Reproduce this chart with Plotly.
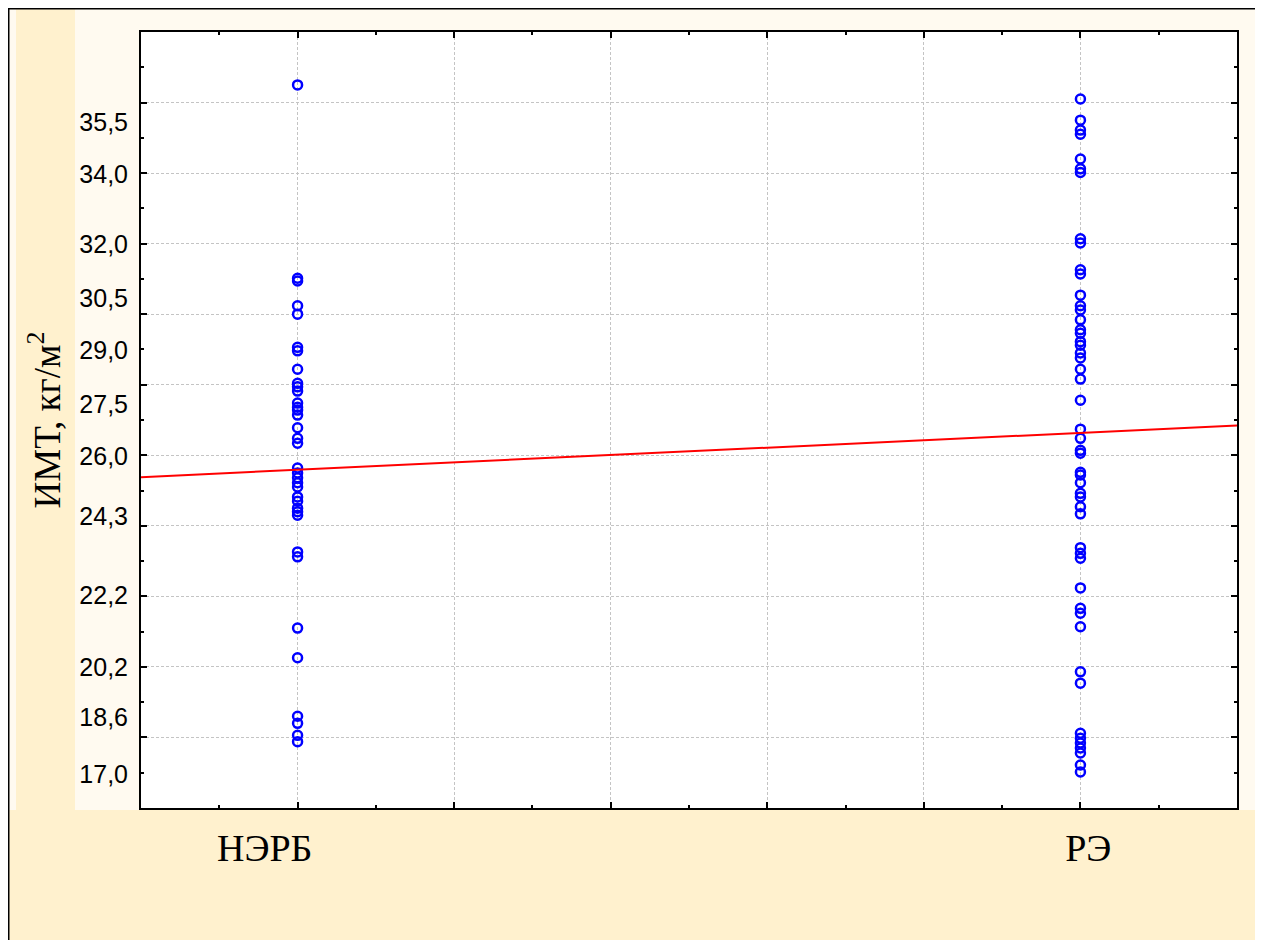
import plotly.graph_objects as go
import numpy as np

# ---------------- data (values on the chart's vertical scale) ----------------
groups = ["НЭРБ", "РЭ"]
group_pos = [1, 6]            # position of each group on the horizontal scale (0..7)

nerb_values = [10.25, 7.51, 7.47, 7.12, 7.00, 6.53, 6.48, 6.22, 6.02, 5.97, 5.91, 5.74,
               5.68, 5.64, 5.57, 5.39, 5.24, 5.17, 4.82, 4.75, 4.68, 4.61, 4.55, 4.41,
               4.35, 4.25, 4.20, 4.15, 3.63, 3.56, 2.55, 2.13, 1.30, 1.20, 1.03, 0.94]

re_values = [10.05, 9.75, 9.61, 9.55, 9.20, 9.06, 9.01, 8.07, 8.01, 7.63, 7.57, 7.27,
             7.12, 7.06, 6.92, 6.78, 6.73, 6.61, 6.56, 6.45, 6.38, 6.22, 6.08, 5.78,
             5.37, 5.24, 5.07, 5.03, 4.76, 4.72, 4.61, 4.46, 4.41, 4.27, 4.17, 3.69,
             3.61, 3.54, 3.12, 2.83, 2.76, 2.57, 1.93, 1.77, 1.06, 0.99, 0.92, 0.85,
             0.78, 0.61, 0.51]

# y tick labels (as printed) and where they sit on the scale
y_tick_text = ["35,5", "34,0", "32,0", "30,5", "29,0", "27,5", "26,0", "24,3",
               "22,2", "20,2", "18,6", "17,0"]
y_tick_pos = [9.72, 8.99, 7.99, 7.23, 6.49, 5.73, 4.98, 4.14, 3.01, 2.00, 1.28, 0.48]

# x labels positions as printed
x_label_pos = [0.79, 6.05]

# linear trend line (intercept at x=0, slope per x unit)
trend_intercept = 4.69
trend_slope = 0.1045

X_RANGE = [0, 7]
Y_RANGE = [0, 11]

# ---------------- layout geometry (page pixels; the page adds an 8px body margin) ----------------
OFF = 8
W, H = 1250, 940
L, R, T, B = 141, 1237, 32, 808   # plot area on the page


def pxx(p):
    return (p - L) / (R - L)


def pxy(p):
    return (B - p) / (B - T)


CREAM = "#FFF1CE"
LIGHT = "#FFFAF0"
GRID = "#C4C4C4"
SERIF = "Liberation Serif, Times New Roman, serif"
SANS = "Liberation Sans, Arial, sans-serif"

fig = go.Figure()

marker_style = dict(symbol="circle-open", size=9, color="#0000FF", line=dict(width=2.5, color="#0000FF"))
fig.add_trace(go.Scatter(
    x=[group_pos[0]] * len(nerb_values), y=nerb_values, mode="markers",
    marker=marker_style, showlegend=False, name=groups[0]))
fig.add_trace(go.Scatter(
    x=[group_pos[1]] * len(re_values), y=re_values, mode="markers",
    marker=marker_style, showlegend=False, name=groups[1]))

tx = np.array(X_RANGE, dtype=float)
# trend line drawn on the label x-axis (same range as the main x-axis)
fig.add_trace(go.Scatter(
    x=tx, y=trend_intercept + trend_slope * tx, mode="lines", xaxis="x2", yaxis="y",
    line=dict(color="#FF0000", width=2), showlegend=False, name="trend", hoverinfo="skip"))
# invisible helper so the label y-axis is rendered
fig.add_trace(go.Scatter(
    x=[X_RANGE[0]], y=[Y_RANGE[0]], mode="markers", xaxis="x", yaxis="y2",
    marker=dict(opacity=0), showlegend=False, hoverinfo="skip"))

shapes = [
    dict(type="rect", xref="paper", yref="paper", x0=pxx(8), x1=pxx(1258), y0=pxy(1000), y1=pxy(8),
         fillcolor=LIGHT, line=dict(width=0), layer="below"),
    dict(type="rect", xref="paper", yref="paper", x0=pxx(8), x1=pxx(1258), y0=pxy(1000), y1=pxy(810),
         fillcolor=CREAM, line=dict(width=0), layer="below"),
    dict(type="rect", xref="paper", yref="paper", x0=pxx(16), x1=pxx(75), y0=pxy(810), y1=pxy(8),
         fillcolor=CREAM, line=dict(width=0), layer="below"),
    dict(type="rect", xref="paper", yref="paper", x0=0, x1=1, y0=0, y1=1,
         fillcolor="white", line=dict(width=0), layer="below"),
    dict(type="rect", xref="paper", yref="paper", x0=pxx(8.75), x1=pxx(1257.25), y0=pxy(1000), y1=pxy(8.75),
         fillcolor="rgba(0,0,0,0)", line=dict(width=1.5, color="black"), layer="below"),
]

axis_common = dict(showline=True, linecolor="black", linewidth=2, mirror="ticks",
                   ticks="inside", ticklen=6, tickwidth=1.5, tickcolor="black",
                   showgrid=True, gridcolor=GRID, griddash="3px,2px", gridwidth=1,
                   zeroline=False, showticklabels=False)

fig.update_layout(
    width=W, height=H,
    margin=dict(l=L - OFF, r=W - (R - OFF), t=T - OFF, b=H - (B - OFF), autoexpand=False),
    paper_bgcolor=CREAM, plot_bgcolor="white",
    shapes=shapes,
    xaxis=dict(range=X_RANGE, tickmode="array", tickvals=[1, 2, 3, 4, 5, 6],
               minor=dict(tickmode="array", tickvals=[0.5, 1.5, 2.5, 3.5, 4.5, 5.5, 6.5],
                          ticks="inside", ticklen=3, tickwidth=1.5, tickcolor="black", showgrid=False),
               **axis_common),
    yaxis=dict(range=Y_RANGE, tickmode="array", tickvals=[1, 2, 3, 4, 5, 6, 7, 8, 9, 10],
               minor=dict(tickmode="array", tickvals=[0.5, 1.5, 2.5, 3.5, 4.5, 5.5, 6.5, 7.5, 8.5, 9.5, 10.5],
                          ticks="inside", ticklen=3, tickwidth=1.5, tickcolor="black", showgrid=False),
               **axis_common),
    xaxis2=dict(overlaying="x", anchor="y", side="bottom", range=X_RANGE,
                tickmode="array", tickvals=x_label_pos, ticktext=groups,
                ticks="", showgrid=False, showline=False, zeroline=False,
                tickfont=dict(family=SERIF, size=38, color="black"),
                ticklabelstandoff=14),
    yaxis2=dict(overlaying="y", anchor="x", side="left", range=Y_RANGE,
                tickmode="array", tickvals=y_tick_pos, ticktext=y_tick_text,
                ticks="", showgrid=False, showline=False, zeroline=False,
                tickfont=dict(family=SANS, size=25, color="black"),
                ticklabelstandoff=12,
                title=dict(text="ИМТ, кг/м<sup>2</sup>", standoff=7,
                           font=dict(family=SERIF, size=37, color="black"))),
)

fig.write_html("out.html")
